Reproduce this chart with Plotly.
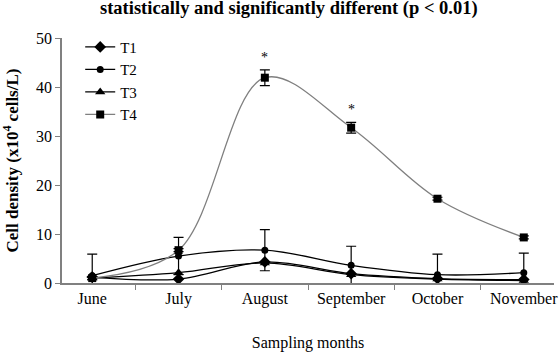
import plotly.graph_objects as go

months = ["June", "July", "August", "September", "October", "November"]
t1 = [1.2, 0.8, 4.3, 1.9, 0.9, 0.7]
t3 = [1.0, 2.1, 4.1, 1.7, 0.8, 0.5]
t2 = [1.5, 5.5, 6.7, 3.6, 1.7, 2.1]
t2_err = [4.4, 3.8, 4.2, 3.9, 4.2, 4.0]
t4 = [1.0, 6.7, 41.9, 31.7, 17.2, 9.3]
t4_err = [0.3, 0.3, 1.6, 1.1, 0.3, 0.3]
star_flags = [False, False, True, True, False, False]

serif = "Liberation Serif"

fig = go.Figure()

def add(name, y, symbol, size, color="black", err=None):
    kw = {}
    if err is not None:
        kw["error_y"] = dict(type="data", array=err, visible=True, color="black",
                             thickness=1.2, width=5)
    fig.add_trace(go.Scatter(
        x=months, y=y, name=name, mode="lines+markers",
        line=dict(color=color, width=1.3, shape="spline", smoothing=1),
        marker=dict(symbol=symbol, size=size, color="black"),
        **kw))

add("T1", t1, "diamond", 9)
add("T2", t2, "circle", 7, err=t2_err)
add("T3", t3, "triangle-up", 9)
add("T4", t4, "square", 8, color="#7f7f7f", err=t4_err)

for m, v, e, f in zip(months, t4, t4_err, star_flags):
    if f:
        fig.add_annotation(x=m, y=v + e + 0.6, text="*", showarrow=False,
                           yanchor="bottom", font=dict(family=serif, size=14, color="#000000"))

fig.add_annotation(xref="paper", yref="paper", x=(289 - 62) / 492, y=(283 - 8) / 245,
                   text="<b>statistically and significantly different (p &lt; 0.01)</b>",
                   showarrow=False, xanchor="center", yanchor="middle",
                   font=dict(family=serif, size=18.5, color="#000000"))

fig.update_layout(
    width=559, height=352,
    margin=dict(l=62, r=5, t=38, b=69),
    paper_bgcolor="white", plot_bgcolor="white",
    font=dict(family=serif, size=16, color="black"),
    showlegend=True,
    legend=dict(x=0.037, y=1.03, xanchor="left", yanchor="top",
                bgcolor="rgba(0,0,0,0)", font=dict(family=serif, size=15),
                tracegroupgap=0),
)
fig.update_xaxes(
    type="category", showgrid=False, showline=True, linecolor="#808080", linewidth=1.5,
    ticks="outside", tickson="boundaries", ticklen=5, tickcolor="#808080",
    tickfont=dict(family=serif, size=16), automargin=False,
    title=dict(text="Sampling months", font=dict(family=serif, size=16), standoff=30),
)
fig.update_yaxes(
    range=[0, 50], dtick=10, showgrid=False, showline=True, linecolor="#808080", linewidth=1.5,
    ticks="outside", ticklen=5, tickcolor="#808080", zeroline=False,
    tickfont=dict(family=serif, size=16), automargin=False,
    title=dict(text="<b>Cell density (x10<sup>4</sup> cells/L)</b>",
               font=dict(family=serif, size=17), standoff=14),
)

fig.write_html("out.html")
